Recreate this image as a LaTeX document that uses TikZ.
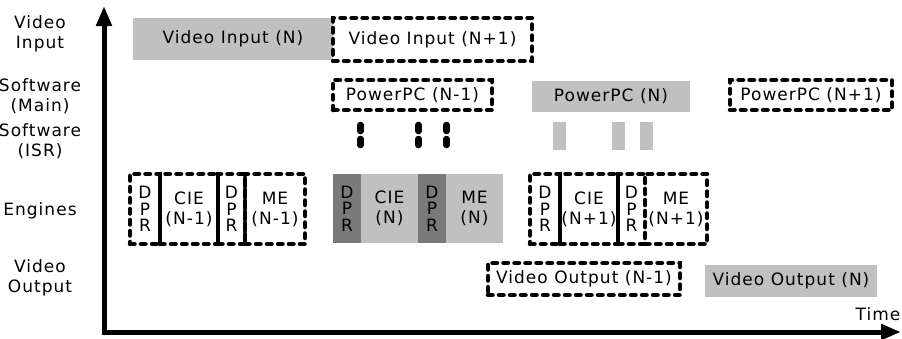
\documentclass[tikz,border=0pt]{standalone}
\usepackage{fontspec}
\setmainfont{DejaVu Sans}[LetterSpace=6]
\usetikzlibrary{positioning,arrows.meta}

\definecolor{busygray}{RGB}{192,192,192}
\definecolor{dprgray}{RGB}{122,122,122}

\begin{document}
\begin{tikzpicture}[x=1pt,y=-1pt,
                    every node/.style={inner sep=0pt,outer sep=0pt,align=center,
                                       font=\fontsize{17}{20}\selectfont}]
\tikzset{slot/.style={anchor=north west},
         done/.style={slot,fill=busygray},
         dpr/.style={slot,fill=dprgray,font=\fontsize{17}{16.5}\selectfont},
         todo/.style={slot,draw=black,line width=4.5pt,
                      dash pattern=on 4.5pt off 6.5pt,line cap=round},
         isrline/.style={line width=6.5pt,line cap=round,dash pattern=on 6pt off 8pt},
         axis/.style={line width=5pt,{Triangle[length=20pt,width=15pt]}-{Triangle[length=20pt,width=15pt]}}}

  \useasboundingbox (0,0) rectangle (902,338);

        % row labels
        \node (lin)   at (40,34)  {Video\\Input};
        \node (lmain) at (40,96)  {Software\\(Main)};
        \node (lisr)  at (40,141) {Software\\(ISR)};
        \node (leng)  at (40,211) {Engines};
        \node (lout)  at (40,278) {Video\\Output};

        % video input
        \node[done,minimum width=200pt,minimum height=42pt] (vin0) at (133,18) {Video Input (N)};
        \node[todo,minimum width=199pt,minimum height=43pt] (vin1) at (333,18) {Video Input (N+1)};

        % software main
        \node[todo,minimum width=159pt,minimum height=30pt] (ppc0) at (333,80) {PowerPC (N-1)};
        \node[done,minimum width=158pt,minimum height=31pt] (ppc1) at (532,81) {PowerPC (N)};
        \node[todo,minimum width=162pt,minimum height=30pt] (ppc2) at (730,80) {PowerPC (N+1)};

        % software isr
        \node[slot,minimum width=7pt,minimum height=22pt] (isr0) at (357,125) {};
        \node[slot,minimum width=7pt,minimum height=22pt] (isr1) at (415,125) {};
        \node[slot,minimum width=7pt,minimum height=22pt] (isr2) at (443,125) {};
        \node[done,minimum width=13pt,minimum height=28pt] (isr3) at (553,122) {};
        \node[done,minimum width=13pt,minimum height=28pt] (isr4) at (612,122) {};
        \node[done,minimum width=13pt,minimum height=28pt] (isr5) at (640,122) {};
        \draw[isrline] (isr0.north) -- (isr0.south);
        \draw[isrline] (isr1.north) -- (isr1.south);
        \draw[isrline] (isr2.north) -- (isr2.south);

        % engines (N-1)
        \node[todo,minimum width=30pt,minimum height=70pt,font=\fontsize{17}{16.5}\selectfont] (d0) at (130,174) {D\\P\\R};
        \node[todo,minimum width=58pt,minimum height=70pt] (c0) [right=0pt of d0] {CIE\\(N-1)};
        \node[todo,minimum width=27pt,minimum height=70pt,font=\fontsize{17}{16.5}\selectfont] (e0) [right=0pt of c0] {D\\P\\R};
        \node[todo,minimum width=60pt,minimum height=70pt] (m0) [right=0pt of e0] {ME\\(N-1)};

        % engines (N)
        \node[dpr,minimum width=28pt,minimum height=69pt] (d1) at (333,174) {D\\P\\R};
        \node[done,minimum width=57pt,minimum height=69pt] (c1) [right=0pt of d1] {CIE\\(N)};
        \node[dpr,minimum width=28pt,minimum height=69pt] (e1) [right=0pt of c1] {D\\P\\R};
        \node[done,minimum width=57pt,minimum height=69pt] (m1) [right=0pt of e1] {ME\\(N)};

        % engines (N+1)
        \node[todo,minimum width=30pt,minimum height=70pt,font=\fontsize{17}{16.5}\selectfont] (d2) at (530,174) {D\\P\\R};
        \node[todo,minimum width=58pt,minimum height=70pt] (c2) [right=0pt of d2] {CIE\\(N+1)};
        \node[todo,minimum width=27pt,minimum height=70pt,font=\fontsize{17}{16.5}\selectfont] (e2) [right=0pt of c2] {D\\P\\R};
        \node[todo,minimum width=62pt,minimum height=70pt] (m2) [right=0pt of e2] {ME\\(N+1)};

        % video output
        \node[todo,minimum width=192pt,minimum height=32pt] (vout0) at (488,263) {Video Output (N-1)};
        \node[done,minimum width=172pt,minimum height=32pt] (vout1) at (705,265) {Video Output (N)};

        % axes
        \coordinate (ytop) at (104,6);
        \coordinate (xend) at (901,332);
        \draw[axis] (ytop) |- (xend);
        \node (time) at (878,314) {Time};

\end{tikzpicture}
\end{document}
